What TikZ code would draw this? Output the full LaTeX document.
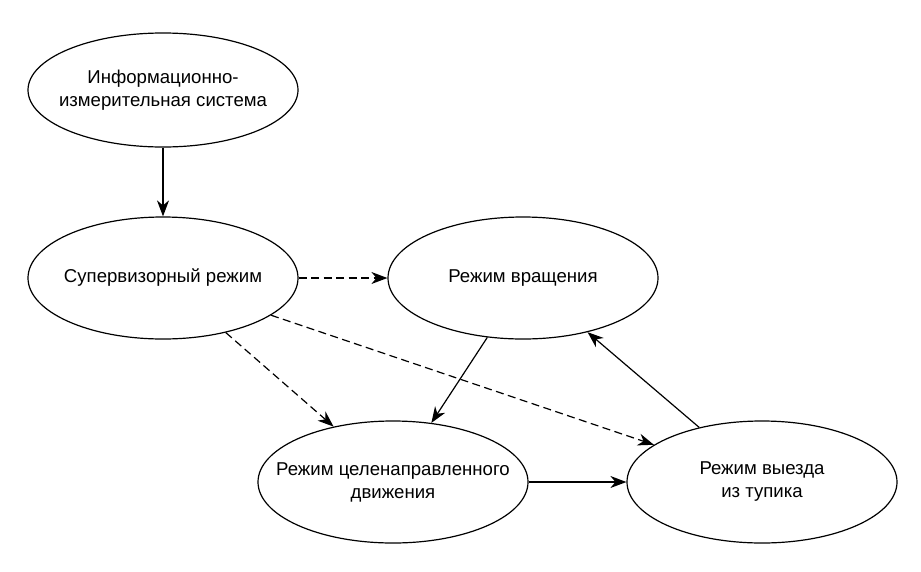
\documentclass[tikz,border=0pt]{standalone}
\usepackage{fontspec}
\setmainfont{Liberation Sans}
\usetikzlibrary{arrows.meta,shapes.geometric}
\begin{document}
\begin{tikzpicture}[x=1pt,y=-1pt,
mode/.style={draw,ellipse,line width=1.2pt,minimum width=270pt,minimum height=122pt,inner xsep=-45pt,inner ysep=0pt,align=center,font=\fontsize{18.6}{23}\selectfont},
link/.style={line width=1.2pt,-{Stealth[length=16pt,width=12pt,inset=5pt]}},
weak/.style={link,dash pattern=on 8pt off 4.5pt}]
\useasboundingbox (0,0) rectangle (921,571);
\node[mode,minimum height=114pt] (info) at (163,90) {Информационно-\\измерительная система};
\node[mode] (sup) at (163,278) {Супервизорный режим};
\node[mode] (rot) at (523,278) {Режим вращения};
\node[mode] (goal) at (393,482) {Режим целенаправленного\\движения};
\node[mode] (exit) at (762,482) {Режим выезда\\из тупика};
\draw[link] (info) -- (sup);
\draw[weak] (sup.east) -- (rot.west);
\draw[weak] (sup.-41) -- (goal.137);
\draw[weak] (sup.-19) -- (exit.161);
\draw[link] (rot.-121) -- (goal.57);
\draw[link] (exit.139) -- (rot.-40);
\draw[link] (goal.east) -- (exit.west);
\end{tikzpicture}
\end{document}
